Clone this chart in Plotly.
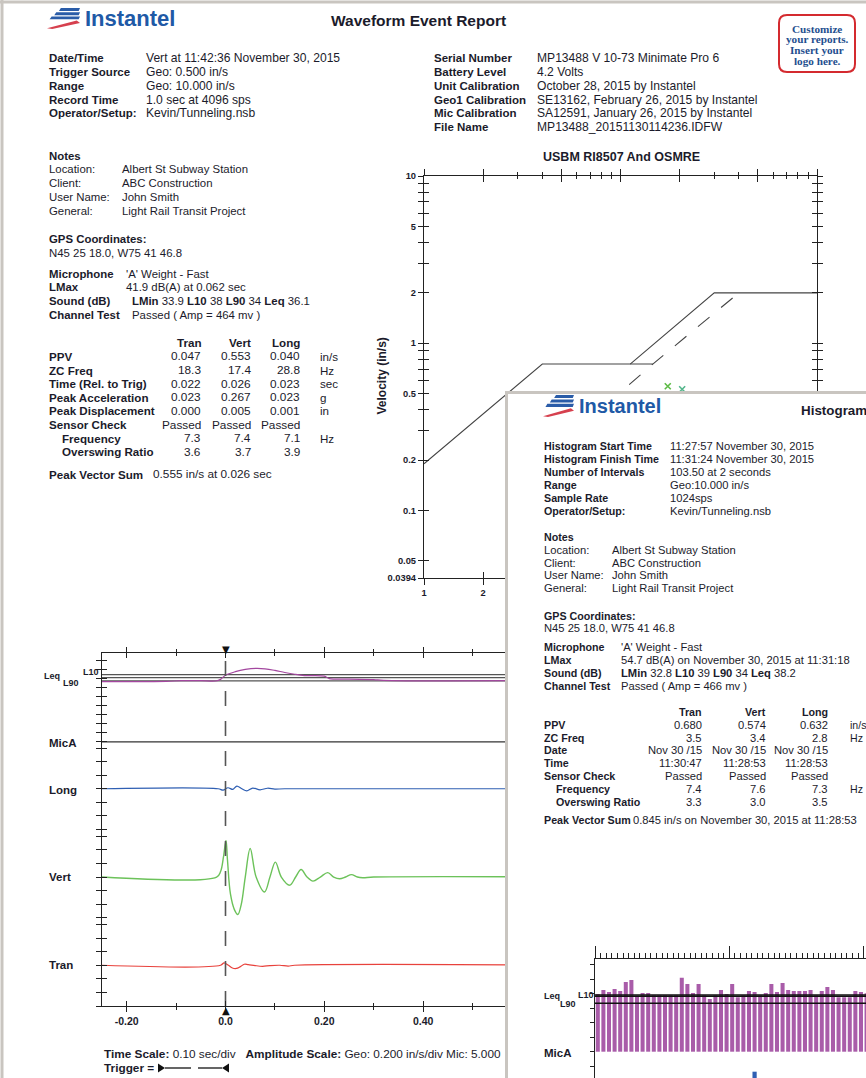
import plotly.graph_objects as go

W, H = 866, 1078
def X(px): return px / W
def Y(py): return 1 - py / H

INK = "#1b1b2b"
FONT = "Liberation Sans"

# ---------------- DATA ----------------
report_title = "Waveform Event Report"
event_labels = ["Date/Time", "Trigger Source", "Range", "Record Time", "Operator/Setup:"]
event_values = ["Vert at 11:42:36 November 30, 2015", "Geo: 0.500 in/s", "Geo: 10.000 in/s",
                "1.0 sec at 4096 sps", "Kevin/Tunneling.nsb"]
unit_labels = ["Serial Number", "Battery Level", "Unit Calibration", "Geo1 Calibration",
               "Mic Calibration", "File Name"]
unit_values = ["MP13488 V 10-73 Minimate Pro 6", "4.2 Volts", "October 28, 2015 by Instantel",
               "SE13162, February 26, 2015 by Instantel", "SA12591, January 26, 2015 by Instantel",
               "MP13488_20151130114236.IDFW"]
note_labels = ["Location:", "Client:", "User Name:", "General:"]
note_values = ["Albert St Subway Station", "ABC Construction", "John Smith", "Light Rail Transit Project"]
gps_text = "N45 25 18.0, W75 41 46.8"
mic_labels = ["Microphone", "LMax", "Sound (dB)", "Channel Test"]
sound_keys = ["LMin", "L10", "L90", "Leq"]
wf_mic_weight = "'A' Weight - Fast"
wf_lmax = "41.9 dB(A) at 0.062 sec"
wf_sound = ["33.9", "38", "34", "36.1"]
wf_channel_test = "Passed ( Amp = 464 mv )"

channels = ["Tran", "Vert", "Long"]
wf_rows = ["PPV", "ZC Freq", "Time (Rel. to Trig)", "Peak Acceleration", "Peak Displacement",
           "Sensor Check", "Frequency", "Overswing Ratio"]
wf_units = ["in/s", "Hz", "sec", "g", "in", "", "Hz", ""]
wf_ppv = ["0.047", "0.553", "0.040"]
wf_zc = ["18.3", "17.4", "28.8"]
wf_time = ["0.022", "0.026", "0.023"]
wf_acc = ["0.023", "0.267", "0.023"]
wf_disp = ["0.000", "0.005", "0.001"]
wf_check = ["Passed", "Passed", "Passed"]
wf_freq = ["7.3", "7.4", "7.1"]
wf_osr = ["3.6", "3.7", "3.9"]
wf_pvs = "0.555 in/s at 0.026 sec"

# USBM RI8507 / OSMRE curves (Hz, in/s)
usbm_low_f = [1, 4, 14.6]
usbm_low_v = [0.19, 0.75, 0.75]
osm_f = [11.2, 30, 100]
osm_v = [0.75, 2.0, 2.0]
usbm_dash_f = [5, 14.6, 40]
usbm_dash_v = [0.25, 0.75, 2.0]
event_f = [17.4, 20.6]
event_v = [0.553, 0.53]
usbm_y_ticks = [0.0394, 0.05, 0.1, 0.2, 0.3, 0.4, 0.5, 0.6, 0.7, 0.8, 0.9, 1, 2, 3, 4, 5, 6, 7, 8, 9, 10]
usbm_y_labels = ["0.0394", "0.05", "0.1", "0.2", "", "", "0.5", "", "", "", "", "1", "2", "", "", "5",
                 "", "", "", "", "10"]
usbm_x_major = [1, 2, 5, 10, 20, 50, 100]
usbm_x_labels = ["1", "2", "", "", "", "", ""]
usbm_x_minor = [3, 4, 6, 7, 8, 9, 30, 40, 60, 70, 80, 90]

# Waveform traces (sec, in/s) and mic (sec, dB)
mic_t = [-0.25, -0.12, -0.09, -0.05, -0.02, -0.01, 0.0, 0.02, 0.04, 0.062, 0.08, 0.10, 0.12,
         0.14, 0.16, 0.20, 0.21, 0.25, 0.30, 0.32, 0.75]
mic_db = [33.6, 33.7, 34.2, 34.2, 34.0, 35.0, 37.6, 39.8, 41.2, 41.9, 41.6, 40.6, 39.3,
          38.2, 37.4, 37.0, 35.5, 35.1, 34.9, 34.4, 34.4]
mica_t = [-0.25, 0.75]
mica_v = [0.0, 0.0]
long_t = [-0.25, -0.015, -0.005, 0.005, 0.015, 0.023, 0.033, 0.043, 0.055, 0.07, 0.085, 0.10, 0.12, 0.75]
long_v = [0.0, 0.0, -0.02, 0.015, -0.01, 0.04, 0.0, -0.03, 0.01, -0.015, 0.008, -0.005, 0.0, 0.0]
vert_t = [-0.25, -0.018, -0.010, -0.004, 0.001, 0.004, 0.010, 0.018, 0.025, 0.032, 0.040, 0.050,
          0.062, 0.079, 0.090, 0.101, 0.113, 0.130, 0.142, 0.153, 0.165, 0.177, 0.192, 0.207,
          0.219, 0.231, 0.243, 0.255, 0.267, 0.278, 0.30, 0.75]
vert_v = [0.0, 0.0, 0.08, 0.30, 0.54, 0.25, -0.25, -0.48, -0.553, -0.40, 0.0, 0.42,
          0.0, -0.22, 0.0, 0.22, 0.0, -0.12, 0.0, 0.11, 0.0, -0.06, 0.0, 0.065,
          0.0, -0.025, 0.0, 0.035, 0.0, -0.01, 0.0, 0.0]
tran_t = [-0.25, -0.01, -0.003, 0.006, 0.014, 0.022, 0.030, 0.038, 0.046, 0.06, 0.075, 0.09,
          0.11, 0.127, 0.14, 0.75]
tran_v = [0.0, 0.0, 0.035, 0.0, -0.04, -0.047, -0.02, 0.015, 0.01, -0.005, -0.015, -0.005,
          0.0, -0.012, 0.0, 0.0]
wf_x_major = [-0.2, 0.0, 0.2, 0.4, 0.6]
wf_x_labels = ["-0.20", "0.0", "0.20", "0.40", "0.60"]
wf_x_minor = [-0.1, 0.1, 0.3, 0.5, 0.7]
time_scale = "0.10 sec/div"
amp_scale = "Geo: 0.200 in/s/div Mic: 5.000"

# Histogram event (overlay report)
hist_labels = ["Histogram Start Time", "Histogram Finish Time", "Number of Intervals", "Range",
               "Sample Rate", "Operator/Setup:"]
hist_values = ["11:27:57 November 30, 2015", "11:31:24 November 30, 2015", "103.50 at 2 seconds",
               "Geo:10.000 in/s", "1024sps", "Kevin/Tunneling.nsb"]
h_lmax = "54.7 dB(A) on November 30, 2015 at 11:31:18"
h_sound = ["32.8", "39", "34", "38.2"]
h_channel_test = "Passed ( Amp = 466 mv )"
h_rows = ["PPV", "ZC Freq", "Date", "Time", "Sensor Check", "Frequency", "Overswing Ratio"]
h_units = ["in/s", "Hz", "", "", "", "Hz", ""]
h_ppv = ["0.680", "0.574", "0.632"]
h_zc = ["3.5", "3.4", "2.8"]
h_date = ["Nov 30 /15", "Nov 30 /15", "Nov 30 /15"]
h_time = ["11:30:47", "11:28:53", "11:28:53"]
h_check = ["Passed", "Passed", "Passed"]
h_freq = ["7.4", "7.6", "7.3"]
h_osr = ["3.3", "3.0", "3.5"]
h_pvs = "0.845 in/s on November 30, 2015 at 11:28:53"
hist_mic_db = [39.6, 42.0, 40.8, 42.6, 41.4, 46.8, 48.0, 38.6, 40.2, 40.2,
               38.8, 38.8, 38.8, 38.8, 38.8, 49.4, 45.6, 40.2, 45.6, 38.8,
               36.6, 38.8, 42.0, 39.6, 45.6, 37.6, 38.8, 41.4, 40.8, 38.8,
               40.2, 45.6, 40.8, 46.2, 42.0, 41.4, 41.4, 41.4, 42.0, 38.8,
               41.4, 43.8, 42.0, 37.6, 37.6, 37.6, 41.4, 40.8, 40.0]
hist_long_idx = [28]
hist_long_top = [-7.2]

# ---------------- helpers ----------------
annotations = []
shapes = []

def txt(px, py, s, size=11.5, bold=False, anchor="left", color=INK, family=FONT, angle=0):
    annotations.append(dict(x=X(px), y=Y(py), xref="paper", yref="paper", text=s,
                            showarrow=False, xanchor=anchor, yanchor="middle", borderpad=0,
                            textangle=angle,
                            font=dict(family=family, size=size, color=color,
                                      weight="bold" if bold else "normal")))

def poly(pts, color, layer="above"):
    path = "M " + " L ".join(f"{X(a):.5f},{Y(b):.5f}" for a, b in pts) + " Z"
    shapes.append(dict(type="path", xref="paper", yref="paper", path=path,
                       fillcolor=color, line=dict(width=0), layer=layer))

def seg(x0, y0, x1, y1, color, width, layer="above"):
    shapes.append(dict(type="line", xref="paper", yref="paper", x0=X(x0), y0=Y(y0),
                       x1=X(x1), y1=Y(y1), line=dict(color=color, width=width), layer=layer))

def logo(x0, y0, w, h, text_size):
    blue, red = "#2a5ca8", "#d6404e"
    for k in range(3):
        t = y0 + k * 0.2 * h
        b = t + 0.14 * h
        lt = x0 + (0.42 - 0.14 * k) * w
        poly([(lt, t), (x0 + w, t), (x0 + w - 0.04 * w, b), (lt - 0.06 * w, b)], blue)
    poly([(x0, y0 + 0.97 * h), (x0 + 0.9 * w, y0 + 0.6 * h), (x0 + w, y0 + 0.72 * h),
          (x0 + 0.16 * w, y0 + h)], red)
    txt(x0 + w + 4, y0 + h * 0.5, "Instantel", size=text_size, bold=True, color="#2059a6")

def sound_line(vals):
    return " ".join(f"<b>{k}</b> {v}" for k, v in zip(sound_keys, vals))

def table(hdr_y, step, col_x, unit_x, lab_x, ind_x, rows, units, data, lsize, vsize, usize):
    for c, cx in zip(channels, col_x):
        txt(cx, hdr_y, c, size=lsize, bold=True, anchor="right")
    for i, (r, u, vals) in enumerate(zip(rows, units, data)):
        yy = hdr_y + step * (i + 1)
        indent = r in ("Frequency", "Overswing Ratio")
        txt(ind_x if indent else lab_x, yy, r, size=lsize, bold=True)
        for v, cx in zip(vals, col_x):
            txt(cx, yy, v, size=vsize, anchor="right")
        if u:
            txt(unit_x, yy, u, size=usize)

# ---------------- main report text ----------------
logo(47, 8, 33, 21, 22)
txt(418, 21, report_title, size=15.5, bold=True, anchor="center")
r = 8
bx0, by0, bx1, by1 = 779, 15, 855, 72
shapes.append(dict(type="path", xref="paper", yref="paper", layer="above",
                   path=(f"M {X(bx0+r)},{Y(by0)} L {X(bx1-r)},{Y(by0)} Q {X(bx1)},{Y(by0)} {X(bx1)},{Y(by0+r)} "
                         f"L {X(bx1)},{Y(by1-r)} Q {X(bx1)},{Y(by1)} {X(bx1-r)},{Y(by1)} "
                         f"L {X(bx0+r)},{Y(by1)} Q {X(bx0)},{Y(by1)} {X(bx0)},{Y(by1-r)} "
                         f"L {X(bx0)},{Y(by0+r)} Q {X(bx0)},{Y(by0)} {X(bx0+r)},{Y(by0)} Z"),
                   line=dict(color="#d42a2f", width=2), fillcolor="white"))
for i, line in enumerate(["Customize", "your reports.", "Insert your", "logo here."]):
    txt(817, 28.5 + 11 * i, line, size=11.2, bold=True, anchor="center", color="#1f4f8f",
        family="Liberation Serif")

for i, (l, v) in enumerate(zip(event_labels, event_values)):
    txt(48, 58 + 13.85 * i, l, bold=True)
    txt(145, 58 + 13.85 * i, v, size=12.1)
for i, (l, v) in enumerate(zip(unit_labels, unit_values)):
    txt(433, 58 + 13.85 * i, l, bold=True)
    txt(536, 58 + 13.85 * i, v, size=12.1)

txt(48, 155.7, "Notes", size=11.4, bold=True)
for i, (l, v) in enumerate(zip(note_labels, note_values)):
    txt(48, 169.5 + 13.8 * i, l, size=11.4)
    txt(120.5, 169.5 + 13.8 * i, v, size=11.4)
txt(48, 239.3, "GPS Coordinates:", size=11.4, bold=True)
txt(48, 252.7, gps_text, size=11.4)
wf_mic_vals = [wf_mic_weight, wf_lmax, sound_line(wf_sound), wf_channel_test]
mic_val_x = [125, 125, 130.5, 130.5]
for i, (l, v) in enumerate(zip(mic_labels, wf_mic_vals)):
    txt(48, 273.7 + 13.8 * i, l, size=11.4, bold=True)
    txt(mic_val_x[i], 273.7 + 13.8 * i, v, size=11.4)

table(342.7, 13.66, [202.3, 251.7, 301], 319.3, 48, 60.7, wf_rows, wf_units,
      [wf_ppv, wf_zc, wf_time, wf_acc, wf_disp, wf_check, wf_freq, wf_osr], 11.6, 11.8, 11.6)
txt(48, 474.3, "Peak Vector Sum", size=11.6, bold=True)
txt(152.3, 474.3, wf_pvs, size=11.8)

txt(621.7, 157, "USBM RI8507 And OSMRE", size=12.5, bold=True, anchor="center")
txt(381.5, 376, "Velocity (in/s)", size=12, bold=True, anchor="center", angle=-90)

# waveform labels
txt(43, 676, "Leq", size=9, bold=True)
txt(62, 683, "L90", size=9, bold=True)
txt(82, 672, "L10", size=9, bold=True)
for name, py in [("MicA", 742.7), ("Long", 790), ("Vert", 877), ("Tran", 965)]:
    txt(48, py, name, size=11.5, bold=True)
txt(103, 1054, f"<b>Time Scale:</b> {time_scale}&nbsp;&nbsp; <b>Amplitude Scale:</b> {amp_scale}", size=11.8)
txt(103, 1068, "<b>Trigger =</b>", size=11.8)
poly([(158, 1063.5), (158, 1072.5), (165, 1068)], "#111")
seg(165, 1068, 191, 1068, "#111", 1.3)
seg(198, 1068, 222, 1068, "#111", 1.3)
poly([(229, 1063.5), (229, 1072.5), (222, 1068)], "#111")
# trigger markers on the time axis
annotations.append(dict(x=0, y=Y(649.5), xref="x", yref="paper", text="▼", showarrow=False,
                        xanchor="center", yanchor="middle", borderpad=0,
                        font=dict(family="DejaVu Sans", size=10, color="#111")))
annotations.append(dict(x=0, y=Y(1010), xref="x", yref="paper", text="▲", showarrow=False,
                        xanchor="center", yanchor="middle", borderpad=0,
                        font=dict(family="DejaVu Sans", size=10, color="#111")))

# ---------------- overlay (histogram report) text ----------------
logo(543, 395, 31, 22, 20)
txt(800, 410, "Histogram", size=13.4, bold=True)
HL, HV = 10.7, 11.2
for i, (l, v) in enumerate(zip(hist_labels, hist_values)):
    txt(542.7, 446 + 12.95 * i, l, size=HL, bold=True)
    txt(669.3, 446 + 12.95 * i, v, size=HV)
txt(542.7, 536.7, "Notes", size=HL, bold=True)
for i, (l, v) in enumerate(zip(note_labels, note_values)):
    txt(542.7, 549.7 + 12.8 * i, l, size=HV)
    txt(611, 549.7 + 12.8 * i, v, size=HV)
txt(542.7, 615.7, "GPS Coordinates:", size=HL, bold=True)
txt(542.7, 627.5, gps_text, size=HV)
h_mic_vals = [wf_mic_weight, h_lmax, sound_line(h_sound), h_channel_test]
for i, (l, v) in enumerate(zip(mic_labels, h_mic_vals)):
    txt(542.7, 646.7 + 13 * i, l, size=HL, bold=True)
    txt(620, 646.7 + 13 * i, v, size=HV)
table(711.7, 12.9, [703.3, 766.7, 829], 848.5, 542.7, 555, h_rows, h_units,
      [h_ppv, h_zc, h_date, h_time, h_check, h_freq, h_osr], HL, HV, 10.6)
txt(542.7, 820, "Peak Vector Sum", size=HL, bold=True)
txt(632, 820, h_pvs, size=HV)
txt(542.7, 996, "Leq", size=9, bold=True)
txt(559, 1003.5, "L90", size=9, bold=True)
txt(576.5, 995, "L10", size=9, bold=True)
txt(542.7, 1052.7, "MicA", size=11.5, bold=True)

# page border
seg(2, 0, 2, 1078, "#c9c5c0", 3, layer="below")
seg(0, 2, 866, 2, "#c9c5c0", 3, layer="below")

# ---------------- traces ----------------
fig = go.Figure()

base_div = {"Tran": 0.0, "Vert": 6.5, "Long": 13.0, "MicA": 16.45}
geo_in_s_per_div = 0.2
mic_db_ref, mic_div_ref, mic_db_per_div = 34.0, 20.94, 8.49
def geo_y(vals, ch): return [base_div[ch] + v / geo_in_s_per_div for v in vals]
def mic_y(dbs): return [mic_div_ref + (d - mic_db_ref) / mic_db_per_div for d in dbs]
wf_L = dict(zip(sound_keys, [float(v) for v in wf_sound]))

def ln(x, y, color, width, xa, ya, dash="solid", shape="linear"):
    fig.add_trace(go.Scatter(x=x, y=y, mode="lines", xaxis=xa, yaxis=ya, hoverinfo="skip",
                             line=dict(color=color, width=width, dash=dash, shape=shape)))

ln(mica_t, geo_y(mica_v, "MicA"), "#333", 1.3, "x", "y")
for k in ["L10", "Leq", "L90"]:
    ln(mica_t, mic_y([wf_L[k], wf_L[k]]), "#555", 1.2, "x", "y")
ln(mic_t, mic_y(mic_db), "#a3479f", 1.2, "x", "y", shape="spline")
ln(long_t, geo_y(long_v, "Long"), "#2f5fb3", 1.2, "x", "y", shape="spline")
ln(vert_t, geo_y(vert_v, "Vert"), "#6cc25a", 1.4, "x", "y", shape="spline")
ln(tran_t, geo_y(tran_v, "Tran"), "#e8423c", 1.2, "x", "y", shape="spline")
ln([0, 0], [-3, 23], "#555", 1.6, "x", "y", dash="longdash")
fig.add_trace(go.Scatter(x=[], y=[], xaxis="x10", yaxis="y10", mode="lines"))

# USBM chart
ln(usbm_low_f, usbm_low_v, "#444", 1.1, "x5", "y5")
ln(osm_f, osm_v, "#444", 1.1, "x5", "y5")
ln(usbm_dash_f, usbm_dash_v, "#444", 1.1, "x5", "y5", dash="longdash")
fig.add_trace(go.Scatter(x=event_f, y=event_v, mode="markers", xaxis="x5", yaxis="y5",
                         marker=dict(symbol="x-thin", size=6, color=["#5dbb46", "#52b58a"],
                                     line=dict(width=1.6, color=["#5dbb46", "#52b58a"]))))
fig.add_trace(go.Scatter(x=[], y=[], xaxis="x8", yaxis="y8", mode="lines"))

# cover sheet of the histogram report
fig.add_trace(go.Scatter(x=[0, 361, 361, 0, 0], y=[0, 0, 687, 687, 0], fill="toself",
                         fillcolor="white", mode="lines", line=dict(width=0),
                         xaxis="x6", yaxis="y6", hoverinfo="skip"))
ln([1.5, 1.5, 361], [0, 685.5, 685.5], "#c9c5c0", 3, "x6", "y6")

# histogram bars
hist_base = 4.84
hist_L = dict(zip(sound_keys, [float(v) for v in h_sound]))
fig.add_trace(go.Bar(x=[i + 0.5 for i in range(len(hist_mic_db))],
                     y=[v - hist_base for v in hist_mic_db], base=hist_base, width=0.72,
                     marker=dict(color="#a95ca9", line=dict(width=0)), xaxis="x7", yaxis="y7"))
fig.add_trace(go.Bar(x=[i + 0.5 for i in hist_long_idx], y=[t + 11 for t in hist_long_top],
                     base=-11, width=0.75, marker=dict(color="#2f5fb3", line=dict(width=0)),
                     xaxis="x7", yaxis="y7"))
for k in ["L10", "Leq", "L90"]:
    ln([0, 48.4], [hist_L[k], hist_L[k]], "#111", 1.4, "x7", "y7")

# ---------------- axes ----------------
AX = "#222"
tick_font = dict(family=FONT, size=10.5, color=INK, weight="bold")
common = dict(showgrid=False, zeroline=False, linecolor=AX, tickcolor=AX, tickwidth=1.2, linewidth=1.2)

wf_ticks = []
for ch in ["Tran", "Vert", "Long"]:
    wf_ticks += [base_div[ch] + k for k in range(-3, 4)]
wf_ticks += [base_div["MicA"] + 0.663 * k for k in range(0, 10)]

layout = dict(
    width=W, height=H, margin=dict(l=0, r=0, t=0, b=0), template="none",
    paper_bgcolor="white", plot_bgcolor="white", showlegend=False,
    annotations=annotations, shapes=shapes, barmode="overlay",
    xaxis=dict(domain=[X(102), X(596)], range=[-0.25, 0.75], anchor="y", showline=True,
               mirror="ticks", ticks="outside", ticklen=5, tickvals=wf_x_major,
               ticktext=wf_x_labels, tickfont=tick_font,
               minor=dict(tickmode="array", tickvals=wf_x_minor, ticks="outside", ticklen=3,
                          tickcolor=AX, tickwidth=1.2), **common),
    yaxis=dict(domain=[Y(1006), Y(653)], range=[-3, 23], anchor="x", showline=True,
               ticks="outside", ticklen=5, tickvals=wf_ticks, showticklabels=False, **common),
    xaxis10=dict(overlaying="x", anchor="y10", range=[-0.25, 0.75], showline=False,
                 mirror="ticks", ticks="inside", ticklen=5, tickvals=wf_x_major,
                 showticklabels=False,
                 minor=dict(tickmode="array", tickvals=wf_x_minor, ticks="inside", ticklen=3,
                            tickcolor=AX, tickwidth=1.2), **common),
    yaxis10=dict(overlaying="y", anchor="x10", range=[-3, 23], showline=False, ticks="inside",
                 ticklen=5, tickvals=wf_ticks, showticklabels=False, **common),
    xaxis5=dict(domain=[X(424), X(817)], type="log", range=[0, 2], anchor="y5", showline=True,
                mirror="ticks", ticks="outside", ticklen=6, tickvals=usbm_x_major,
                ticktext=usbm_x_labels,
                tickfont=dict(family=FONT, size=9.3, color=INK, weight="bold"),
                minor=dict(tickmode="array", tickvals=usbm_x_minor, ticks="outside", ticklen=3,
                           tickcolor=AX, tickwidth=1.2), **common),
    yaxis5=dict(domain=[Y(578), Y(176)], type="log", range=[-1.4045, 1], anchor="x5",
                showline=True, mirror="ticks", ticks="outside", ticklen=5,
                tickvals=usbm_y_ticks, ticktext=usbm_y_labels,
                tickfont=dict(family=FONT, size=9.3, color=INK, weight="bold"), **common),
    xaxis8=dict(overlaying="x5", anchor="y8", type="log", range=[0, 2], showline=False,
                mirror="ticks", ticks="inside", ticklen=6, tickvals=usbm_x_major,
                showticklabels=False,
                minor=dict(tickmode="array", tickvals=usbm_x_minor, ticks="inside", ticklen=3,
                           tickcolor=AX, tickwidth=1.2), **common),
    yaxis8=dict(overlaying="y5", anchor="x8", type="log", range=[-1.4045, 1], showline=False,
                mirror="ticks", ticks="inside", ticklen=5, tickvals=usbm_y_ticks,
                showticklabels=False, **common),
    xaxis6=dict(domain=[X(505), 1], range=[0, 361], anchor="y6", visible=False),
    yaxis6=dict(domain=[0, Y(391)], range=[0, 687], anchor="x6", visible=False),
    xaxis7=dict(domain=[X(595), 1], range=[0, 48.4], anchor="y7", side="top", showline=True,
                ticks="outside", ticklen=12, tickvals=[0, 24, 48], showticklabels=False,
                minor=dict(tickmode="array", tickvals=list(range(1, 49)), ticks="outside",
                           ticklen=5, tickcolor=AX, tickwidth=1), **common),
    yaxis7=dict(domain=[0, Y(959.3)], range=[-11, 60.5], anchor="x7", showline=True,
                ticks="outside", ticklen=4,
                tickvals=[hist_base + 8.73 * k for k in range(-1, 7)], showticklabels=False,
                **common),
)
fig.update_layout(**layout)
fig.write_html("out.html", config={"displayModeBar": False},
               post_script="document.body.style.margin='0px';")
